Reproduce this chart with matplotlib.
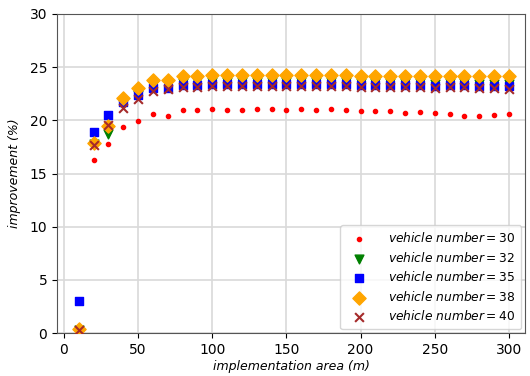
import matplotlib
matplotlib.use("Agg")
import matplotlib.pyplot as plt

# implementation area (m)
area = list(range(10, 301, 10))

# improvement (%) per vehicle number
imp30 = [0.3, 16.3, 17.8, 19.4, 19.9, 20.6, 20.4, 21.0, 21.0, 21.1,
         21.0, 21.0, 21.1, 21.1, 21.0, 21.1, 21.0, 21.1, 21.0, 20.9,
         20.9, 20.9, 20.7, 20.8, 20.7, 20.6, 20.4, 20.4, 20.5, 20.6]
imp32 = [0.3, 17.8, 18.7, 21.5, 22.4, 23.2, 23.3, 23.5, 23.6, 23.6,
         23.6, 23.6, 23.6, 23.6, 23.6, 23.6, 23.6, 23.6, 23.6, 23.5,
         23.5, 23.5, 23.5, 23.5, 23.4, 23.5, 23.5, 23.4, 23.4, 23.4]
imp35 = [3.0, 18.9, 20.5, 21.7, 22.4, 23.0, 23.0, 23.3, 23.3, 23.4,
         23.4, 23.4, 23.4, 23.4, 23.4, 23.4, 23.4, 23.4, 23.4, 23.3,
         23.3, 23.3, 23.3, 23.3, 23.2, 23.3, 23.3, 23.2, 23.2, 23.2]
imp38 = [0.4, 17.9, 19.5, 22.1, 23.0, 23.8, 23.8, 24.2, 24.2, 24.3,
         24.3, 24.3, 24.3, 24.3, 24.3, 24.3, 24.3, 24.3, 24.3, 24.2,
         24.2, 24.2, 24.2, 24.2, 24.2, 24.2, 24.2, 24.2, 24.2, 24.2]
imp40 = [0.3, 17.7, 19.6, 21.2, 22.0, 22.8, 22.9, 23.1, 23.1, 23.2,
         23.2, 23.2, 23.2, 23.2, 23.2, 23.2, 23.2, 23.2, 23.2, 23.1,
         23.1, 23.1, 23.1, 23.1, 23.0, 23.1, 23.1, 23.0, 23.0, 22.9]

fig = plt.figure(figsize=(5.3, 3.76), dpi=100)
ax = fig.add_axes([0.1075, 0.114, 0.883, 0.849])

ax.grid(True, color="#d9d9d9", linewidth=1.2, zorder=0)
ax.set_axisbelow(True)

ax.scatter(area, imp30, s=9, marker="o", color="red", label=r"$vehicle\ number = 30$", zorder=3)
ax.scatter(area, imp32, s=40, marker="v", color="green", label=r"$vehicle\ number = 32$", zorder=3)
ax.scatter(area, imp35, s=40, marker="s", color="blue", label=r"$vehicle\ number = 35$", zorder=3)
ax.scatter(area, imp38, s=45, marker="D", color="orange", label=r"$vehicle\ number = 38$", zorder=3)
ax.scatter(area, imp40, s=40, marker="x", color="brown", label=r"$vehicle\ number = 40$", zorder=3)

ax.set_ylim(0, 30)
ax.set_xlim(-4.7, 310.8)
ax.set_xticks([0, 50, 100, 150, 200, 250, 300])
ax.set_xlabel("implementation area (m)", style="italic", fontsize=9, labelpad=2)
ax.set_ylabel("improvement (%)", style="italic", fontsize=9, labelpad=6)
ax.tick_params(labelsize=10)
for s in ax.spines.values():
    s.set_color("#555555")

ax.legend(loc="lower right", fontsize=8.8, handletextpad=1.4, borderpad=0.5,
          labelspacing=0.45, borderaxespad=0.3)

fig.savefig("out.png", dpi=100)
